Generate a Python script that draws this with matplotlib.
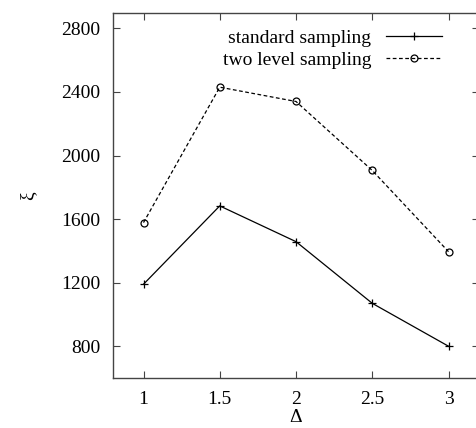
import matplotlib
matplotlib.use('Agg')
import matplotlib.pyplot as plt

# data
delta = [1, 1.5, 2, 2.5, 3]
standard = [1190, 1683, 1458, 1070, 800]
two_level = [1578, 2430, 2340, 1906, 1395]
xticks = [1, 1.5, 2, 2.5, 3]
yticks = [800, 1200, 1600, 2000, 2400, 2800]

plt.rcParams['font.family'] = ['Liberation Serif', 'DejaVu Serif']
fs = 14

W, H = 476, 428
fig = plt.figure(figsize=(W / 100, H / 100), dpi=100)
ax = fig.add_axes([113 / W, 1 - 378 / H, (479 - 113) / W, (378 - 12.5) / H])

ax.plot(delta, standard, color='black', lw=0.9, marker='+', ms=6, mew=0.9,
        label='standard sampling')
ax.plot(delta, two_level, color='black', lw=0.9, ls=(0, (3, 2)), marker='o', ms=5,
        mfc='none', mew=0.9, label='two level sampling')

ax.set_xlim(0.8, 3.2)
ax.set_ylim(600, 2900)
ax.set_xticks(xticks)
ax.set_xticklabels(['1', '1.5', '2', '2.5', '3'])
ax.set_yticks(yticks)
ax.tick_params(direction='in', top=True, right=True, length=5, width=0.8,
               color='#444444', labelsize=fs, pad=9)
for s in ax.spines.values():
    s.set_color('#444444')
    s.set_linewidth(1.0)

ax.set_xlabel('Δ', fontsize=fs, labelpad=1)
ax.set_ylabel('ξ', fontsize=fs, labelpad=18)

leg = ax.legend(loc='upper right', bbox_to_anchor=(442 / W, 1 - 29 / H),
                bbox_transform=fig.transFigure, frameon=False, markerfirst=False,
                handlelength=2.9, handletextpad=0.75, labelspacing=0.25,
                borderpad=0, borderaxespad=0, fontsize=fs)

fig.savefig('out.png', dpi=100)
